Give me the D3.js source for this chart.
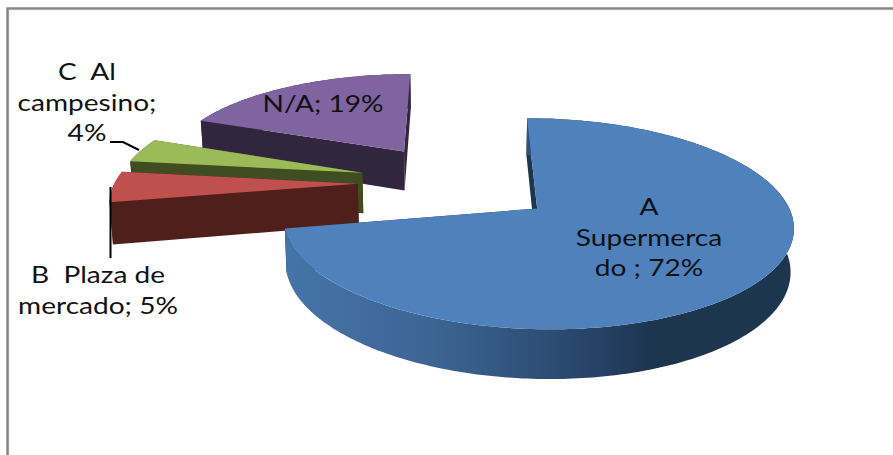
<!DOCTYPE html>
<html>
<head>
<meta charset="utf-8">
<style>
  html, body { margin: 0; padding: 0; background: #fff; }
  svg { display: block; }
  text { font-family: Lato, "Open Sans", sans-serif; fill: #111; white-space: pre; }
</style>
<script src="https://cdn.jsdelivr.net/npm/d3@7/dist/d3.min.js"></script>
</head>
<body>
<svg id="chart" width="893" height="455"></svg>
<script>
// Share of purchases by place of sale, drawn as an exploded 3D pie
const categories = ["A Supermercado", "B Plaza de mercado", "C Al campesino", "N/A"];
const values = [72, 5, 4, 19];
const labelTemplates = [
  ["A", "Supermerca", "do ; {v}%"],
  ["B  Plaza de", "mercado; {v}%"],
  ["C  Al", "campesino;", "{v}%"],
  ["N/A; {v}%"]
];
const topColors = ["#4f81bd", "#c0504d", "#9bbb59", "#8064a2"];
const wallColors = ["#1e3550", "#4f1f1c", "#3f4d20", "#32263f"];

// Label placement: centre x and first baseline
const labelAnchors = [[649, 215], [98, 283], [87, 80], [323, 112]];
const lineStep = 30.5;
const fontSize = 24;
const textStretch = 1.17;

// Projection of the pie plane: perspective along the depth axis
const view = { cx: 457.5, cy: 182.5, ax: 243, ay: 96, persp: 0.139, depth: 41, shrink: 0.99 };
const explode = 0.41;
const radius = 1;

function project(px, py, lower) {
  const w = 1 + view.persp * py;
  let sx = view.cx + view.ax * px / w;
  let sy = view.cy - view.ay * py / w;
  if (lower) {
    sx = view.cx + (sx - view.cx) * view.shrink;
    sy += view.depth / w;
  }
  return [sx, sy];
}

const arcs = d3.pie().sort(null).startAngle(0).endAngle(2 * Math.PI)(values);

// Plane-space geometry of every slice
const slices = arcs.map((a, i) => {
  const mid = (a.startAngle + a.endAngle) / 2;
  const ox = explode * Math.sin(mid);
  const oy = explode * Math.cos(mid);
  const steps = Math.max(4, Math.ceil((a.endAngle - a.startAngle) / (Math.PI / 180)));
  const angles = d3.range(steps + 1).map(k => a.startAngle + (a.endAngle - a.startAngle) * k / steps);
  const rim = angles.map(t => [ox + radius * Math.sin(t), oy + radius * Math.cos(t)]);
  return { i, apex: [ox, oy], rim };
});

const line = d3.line();
const poly = pts => line(pts) + "Z";
const svg = d3.select("#chart");

// Frame of the chart area: a soft highlight under a grey rule
const frameEdge = [[7.5, 455], [7.5, 8.4], [893, 8.4]];
svg.append("path").attr("d", line(frameEdge.map(p => [p[0] + 1, p[1] + 1.2]))).attr("fill", "none")
  .attr("stroke", "#d4d4d4").attr("stroke-width", 1.5);
svg.append("path").attr("d", line(frameEdge)).attr("fill", "none")
  .attr("stroke", "#868686").attr("stroke-width", 2.4);

// Shading along the front rim of the large slice
const defs = svg.append("defs");
const rimGrad = defs.append("linearGradient").attr("id", "rimA")
  .attr("gradientUnits", "userSpaceOnUse").attr("x1", 285).attr("x2", 792).attr("y1", 0).attr("y2", 0);
[[0, "#4674a8"], [0.3, "#3c6493"], [0.55, "#2a4a70"], [0.72, "#1e3550"], [1, "#1e3550"]]
  .forEach(([o, c]) => rimGrad.append("stop").attr("offset", o).attr("stop-color", c));

// Back slices first so the nearer ones overlap them
[3, 2, 1, 0].forEach(i => {
  const s = slices[i];
  const g = svg.append("g").attr("class", "slice").attr("aria-label", categories[i]);
  const top = s.rim.map(p => project(p[0], p[1], false));
  const low = s.rim.map(p => project(p[0], p[1], true));
  const apexT = project(s.apex[0], s.apex[1], false);
  const apexL = project(s.apex[0], s.apex[1], true);
  const last = top.length - 1;
  const wall = wallColors[i];
  g.append("path").attr("d", poly([apexT, top[0], low[0], apexL])).attr("fill", wall);
  g.append("path").attr("d", poly([apexT, top[last], low[last], apexL])).attr("fill", wall);
  g.append("path").attr("d", poly(top.concat(low.slice().reverse())))
    .attr("fill", i === 0 ? "url(#rimA)" : wall);
  g.append("path").attr("d", poly([apexT].concat(top))).attr("fill", topColors[i]);
});

// Leader lines for the two outer labels
const leaders = [
  [[110.5, 187], [110.5, 258]],
  [[110, 142], [123, 142], [139, 150]]
];
svg.selectAll("path.leader").data(leaders).join("path").attr("class", "leader")
  .attr("d", d => line(d)).attr("fill", "none").attr("stroke", "#000").attr("stroke-width", 2);

// Data labels, with the percentage filled in from the values
labelTemplates.forEach((lines, i) => {
  const [x, y] = labelAnchors[i];
  lines.forEach((t, k) => {
    svg.append("text")
      .attr("transform", `translate(${x},${y + k * lineStep}) scale(${textStretch},1)`)
      .attr("text-anchor", "middle").attr("font-size", fontSize)
      .text(t.replace("{v}", values[i]));
  });
});
</script>
</body>
</html>
